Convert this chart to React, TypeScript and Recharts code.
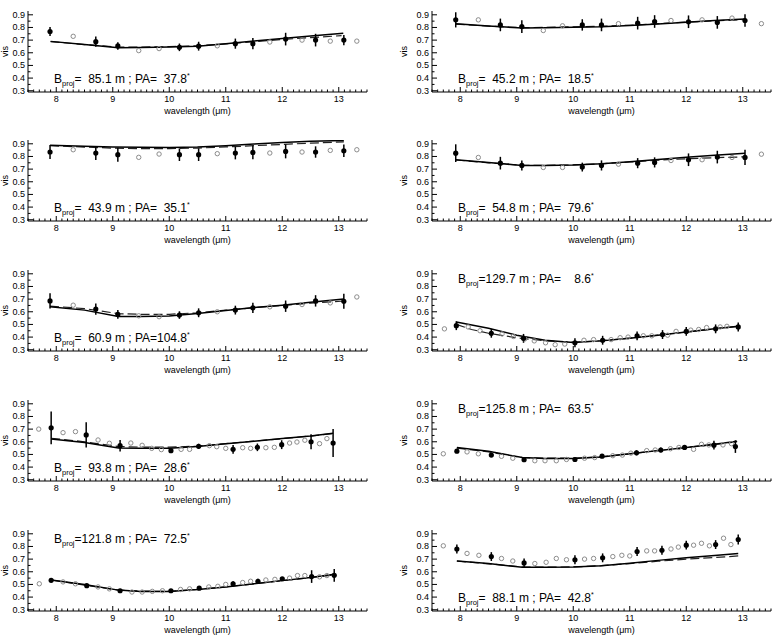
import React from 'react';
import { ComposedChart, Line, Scatter, XAxis, YAxis, ErrorBar, ReferenceDot } from 'recharts';

type Pt = [number, number];
type ErrPt = [number, number, number];

// projected baseline (m) and position angle (deg) per panel, reading order
const baselines = [85.1, 45.2, 43.9, 54.8, 60.9, 129.7, 93.8, 125.8, 121.8, 88.1];
const angles = [37.8, 18.5, 35.1, 79.6, 104.8, 8.6, 28.6, 63.5, 72.5, 42.8];
// annotation sits near the top of the box for these panels
const labelOnTop = [false, false, false, false, false, true, false, true, true, false];

// measured visibilities [wavelength, vis, error]
const measured1: ErrPt[] = [[7.89,0.768,0.035],[8.70,0.688,0.04],[9.09,0.654,0.03],[10.18,0.643,0.03],[10.52,0.652,0.035],[11.17,0.672,0.04],[11.48,0.672,0.045],[12.06,0.708,0.05],[12.59,0.70,0.05],[13.09,0.70,0.04]];
const measured2: ErrPt[] = [[7.92,0.86,0.06],[8.71,0.82,0.05],[9.09,0.807,0.05],[10.16,0.82,0.045],[10.50,0.82,0.05],[11.14,0.834,0.05],[11.44,0.847,0.05],[12.04,0.845,0.05],[12.55,0.84,0.05],[13.04,0.855,0.05]];
const measured3: ErrPt[] = [[7.89,0.835,0.055],[8.70,0.827,0.055],[9.09,0.814,0.055],[10.18,0.814,0.05],[10.52,0.814,0.05],[11.17,0.827,0.05],[11.48,0.832,0.055],[12.06,0.84,0.055],[12.59,0.835,0.045],[13.09,0.845,0.05]];
const measured4: ErrPt[] = [[7.92,0.826,0.07],[8.71,0.747,0.05],[9.09,0.729,0.04],[10.16,0.716,0.035],[10.50,0.729,0.04],[11.14,0.747,0.04],[11.44,0.753,0.04],[12.04,0.774,0.05],[12.55,0.795,0.05],[13.04,0.792,0.06]];
const measured5: ErrPt[] = [[7.89,0.686,0.06],[8.70,0.621,0.045],[9.09,0.579,0.035],[10.18,0.574,0.03],[10.52,0.592,0.035],[11.17,0.613,0.035],[11.48,0.631,0.04],[12.06,0.644,0.045],[12.59,0.686,0.045],[13.09,0.683,0.06]];
const measured6: ErrPt[] = [[7.93,0.49,0.035],[8.55,0.43,0.035],[9.12,0.39,0.035],[10.03,0.355,0.035],[10.52,0.375,0.035],[11.13,0.41,0.035],[11.58,0.42,0.035],[12.0,0.445,0.035],[12.52,0.465,0.035],[12.92,0.48,0.035]];
const measured7: ErrPt[] = [[7.91,0.71,0.13],[8.53,0.654,0.1],[9.13,0.569,0.045],[10.03,0.53,0.012],[10.52,0.564,0.02],[11.13,0.54,0.035],[11.56,0.556,0.03],[11.99,0.577,0.035],[12.51,0.60,0.06],[12.90,0.59,0.11]];
const measured8: ErrPt[] = [[7.94,0.526,0.015],[8.55,0.495,0.012],[9.13,0.458,0.012],[10.03,0.46,0.012],[10.51,0.486,0.015],[11.12,0.513,0.02],[11.55,0.535,0.02],[11.97,0.555,0.015],[12.49,0.573,0.035],[12.87,0.562,0.05]];
const measured9: ErrPt[] = [[7.91,0.532,0.012],[8.54,0.49,0.01],[9.13,0.45,0.01],[10.03,0.45,0.012],[10.53,0.47,0.015],[11.13,0.505,0.02],[11.57,0.525,0.02],[12.0,0.545,0.012],[12.52,0.562,0.05],[12.92,0.572,0.05]];
const measured10: ErrPt[] = [[7.94,0.78,0.035],[8.55,0.72,0.035],[9.13,0.67,0.035],[10.03,0.695,0.035],[10.52,0.71,0.035],[11.13,0.76,0.035],[11.57,0.77,0.035],[12.0,0.81,0.035],[12.52,0.815,0.035],[12.92,0.855,0.04]];

// comparison visibilities (open circles)
const other1: Pt[] = [[8.30,0.73],[9.46,0.617],[9.82,0.633],[10.85,0.655],[11.78,0.685],[12.35,0.70],[12.85,0.692],[13.32,0.692]];
const other2: Pt[] = [[8.32,0.86],[9.47,0.776],[9.81,0.813],[10.80,0.83],[11.73,0.855],[12.28,0.86],[12.81,0.874],[13.33,0.83]];
const other3: Pt[] = [[8.30,0.853],[9.46,0.793],[9.82,0.819],[10.85,0.822],[11.78,0.827],[12.35,0.835],[12.85,0.848],[13.32,0.853]];
const other4: Pt[] = [[8.32,0.792],[9.47,0.713],[9.81,0.713],[10.80,0.739],[11.73,0.768],[12.28,0.774],[12.81,0.792],[13.33,0.818]];
const other5: Pt[] = [[8.30,0.652],[9.46,0.568],[9.82,0.561],[10.85,0.60],[11.78,0.639],[12.35,0.657],[12.85,0.67],[13.32,0.717]];
const other6: Pt[] = [[7.72,0.465],[8.14,0.48],[8.35,0.45],[8.74,0.425],[8.94,0.405],[9.14,0.385],[9.31,0.37],[9.51,0.355],[9.68,0.34],[9.85,0.345],[10.19,0.375],[10.36,0.38],[10.67,0.38],[10.83,0.395],[10.97,0.40],[11.24,0.41],[11.39,0.41],[11.67,0.415],[11.82,0.445],[12.08,0.455],[12.22,0.46],[12.36,0.475],[12.6,0.48],[12.72,0.485]];
const other7: Pt[] = [[7.69,0.70],[8.12,0.672],[8.34,0.68],[8.74,0.614],[8.94,0.588],[9.32,0.59],[9.52,0.572],[9.69,0.548],[9.86,0.538],[10.21,0.54],[10.36,0.54],[10.71,0.569],[10.84,0.561],[11.0,0.548],[11.30,0.553],[11.44,0.548],[11.71,0.553],[11.86,0.556],[12.13,0.59],[12.26,0.598],[12.40,0.612],[12.66,0.585],[12.79,0.625]];
const other8: Pt[] = [[7.7,0.505],[8.12,0.52],[8.32,0.505],[8.73,0.485],[8.93,0.47],[9.32,0.45],[9.5,0.45],[9.7,0.45],[9.88,0.46],[10.2,0.47],[10.38,0.475],[10.7,0.49],[10.87,0.495],[11.02,0.51],[11.3,0.53],[11.45,0.535],[11.72,0.545],[11.87,0.555],[12.13,0.54],[12.27,0.58],[12.4,0.575],[12.65,0.575],[12.8,0.585]];
const other9: Pt[] = [[7.7,0.505],[8.12,0.52],[8.34,0.505],[8.74,0.48],[8.94,0.465],[9.34,0.44],[9.52,0.44],[9.7,0.445],[9.88,0.45],[10.2,0.46],[10.36,0.465],[10.7,0.48],[10.86,0.485],[11.0,0.5],[11.3,0.515],[11.44,0.525],[11.71,0.535],[11.87,0.54],[12.13,0.55],[12.27,0.57],[12.4,0.57],[12.66,0.56],[12.79,0.57]];
const other10: Pt[] = [[7.7,0.805],[8.12,0.745],[8.33,0.73],[8.73,0.705],[8.93,0.685],[9.32,0.665],[9.52,0.675],[9.7,0.705],[9.88,0.695],[10.2,0.70],[10.36,0.705],[10.7,0.72],[10.86,0.73],[11.0,0.725],[11.3,0.765],[11.44,0.765],[11.73,0.78],[11.86,0.795],[12.13,0.81],[12.27,0.825],[12.41,0.805],[12.66,0.865],[12.79,0.815]];

// model curves: solid and dashed
const modelA1: Pt[] = [[7.9,0.69],[8.5,0.665],[9.1,0.64],[9.5,0.642],[10.0,0.645],[10.5,0.652],[11.0,0.672],[11.5,0.692],[12.0,0.712],[12.5,0.732],[13.08,0.755]];
const modelB1: Pt[] = [[7.9,0.688],[8.5,0.665],[9.1,0.645],[9.5,0.645],[10.0,0.648],[10.5,0.655],[11.0,0.67],[11.5,0.688],[12.0,0.705],[12.5,0.72],[13.05,0.735]];
const modelA2: Pt[] = [[7.92,0.83],[8.5,0.812],[9.1,0.795],[9.5,0.797],[10.0,0.802],[10.5,0.806],[11.0,0.815],[11.5,0.828],[12.0,0.842],[12.5,0.855],[13.04,0.866]];
const modelB2: Pt[] = [[7.92,0.827],[8.5,0.81],[9.1,0.798],[10.0,0.805],[10.5,0.81],[11.0,0.817],[11.5,0.83],[12.0,0.842],[12.5,0.852],[13.04,0.862]];
const modelA3: Pt[] = [[7.89,0.888],[8.5,0.88],[9.0,0.874],[9.5,0.872],[10.0,0.871],[10.5,0.875],[11.0,0.885],[11.5,0.898],[12.0,0.91],[12.5,0.92],[13.09,0.926]];
const modelB3: Pt[] = [[7.89,0.885],[8.5,0.874],[9.0,0.866],[9.5,0.862],[10.0,0.862],[10.5,0.866],[11.0,0.875],[11.5,0.885],[12.0,0.895],[12.5,0.905],[13.09,0.915]];
const modelA4: Pt[] = [[7.92,0.774],[8.5,0.752],[9.1,0.729],[9.5,0.728],[10.0,0.732],[10.5,0.742],[11.0,0.758],[11.5,0.775],[12.0,0.793],[12.5,0.81],[13.04,0.826]];
const modelB4: Pt[] = [[7.92,0.772],[8.5,0.75],[9.1,0.73],[9.5,0.73],[10.0,0.733],[10.5,0.742],[11.0,0.756],[11.5,0.77],[12.0,0.782],[12.5,0.79],[13.04,0.797]];
const modelA5: Pt[] = [[7.89,0.639],[8.5,0.613],[9.1,0.563],[9.5,0.562],[10.0,0.566],[10.5,0.587],[11.0,0.61],[11.5,0.633],[12.0,0.652],[12.5,0.675],[13.09,0.70]];
const modelB5: Pt[] = [[7.89,0.645],[8.5,0.625],[9.1,0.585],[9.5,0.58],[10.0,0.58],[10.5,0.592],[11.0,0.613],[11.5,0.632],[12.0,0.65],[12.5,0.668],[13.09,0.685]];
const modelA6: Pt[] = [[7.93,0.52],[8.5,0.47],[9.0,0.415],[9.5,0.375],[10.0,0.358],[10.5,0.37],[11.0,0.39],[11.5,0.415],[12.0,0.44],[12.5,0.465],[12.92,0.485]];
const modelB6: Pt[] = [[7.93,0.50],[8.2,0.46],[8.5,0.43],[9.0,0.395],[9.5,0.37],[10.0,0.36],[10.5,0.372],[11.0,0.392],[11.5,0.415],[12.0,0.44],[12.5,0.465],[12.92,0.485]];
const modelA7: Pt[] = [[7.91,0.622],[8.5,0.595],[9.1,0.55],[9.5,0.548],[10.0,0.548],[10.5,0.562],[11.0,0.585],[11.5,0.605],[12.0,0.625],[12.5,0.645],[12.9,0.668]];
const modelB7: Pt[] = [[7.91,0.628],[8.5,0.6],[9.1,0.562],[9.5,0.558],[10.0,0.557],[10.5,0.566],[11.0,0.585],[11.5,0.605],[12.0,0.625],[12.5,0.645],[12.9,0.665]];
const modelA8: Pt[] = [[7.94,0.555],[8.5,0.525],[9.1,0.475],[9.5,0.468],[10.0,0.468],[10.5,0.48],[11.0,0.505],[11.5,0.53],[12.0,0.555],[12.5,0.58],[12.9,0.605]];
const modelB8: Pt[] = [[7.94,0.55],[8.5,0.52],[9.1,0.475],[9.5,0.47],[10.0,0.47],[10.5,0.482],[11.0,0.505],[11.5,0.53],[12.0,0.555],[12.5,0.578],[12.9,0.6]];
const modelA9: Pt[] = [[7.91,0.535],[8.5,0.5],[9.1,0.455],[9.5,0.445],[10.0,0.445],[10.5,0.46],[11.0,0.48],[11.5,0.505],[12.0,0.53],[12.5,0.555],[12.92,0.58]];
const modelB9: Pt[] = [[7.91,0.535],[8.5,0.495],[9.1,0.455],[9.5,0.447],[10.0,0.445],[10.5,0.46],[11.0,0.48],[11.5,0.505],[12.0,0.53],[12.5,0.553],[12.92,0.575]];
const modelA10: Pt[] = [[7.94,0.685],[8.5,0.665],[9.1,0.635],[9.5,0.635],[10.0,0.638],[10.5,0.648],[11.0,0.668],[11.5,0.69],[12.0,0.71],[12.5,0.728],[12.92,0.745]];
const modelB10: Pt[] = [[7.94,0.685],[8.5,0.663],[9.1,0.638],[9.5,0.637],[10.0,0.638],[10.5,0.648],[11.0,0.665],[11.5,0.683],[12.0,0.7],[12.5,0.712],[12.92,0.725]];

const measured = [measured1, measured2, measured3, measured4, measured5, measured6, measured7, measured8, measured9, measured10];
const others = [other1, other2, other3, other4, other5, other6, other7, other8, other9, other10];
const modelsSolid = [modelA1, modelA2, modelA3, modelA4, modelA5, modelA6, modelA7, modelA8, modelA9, modelA10];
const modelsDashed = [modelB1, modelB2, modelB3, modelB4, modelB5, modelB6, modelB7, modelB8, modelB9, modelB10];

const xDomain: [number, number] = [7.5, 13.5];
const yDomain: [number, number] = [0.29, 0.93];
// major ticks every 1 um / 0.1 vis, minor ticks in between
const xTicks = Array.from({ length: 61 }, (_, i) => +(7.5 + i * 0.1).toFixed(1));
const yTicks = Array.from({ length: 13 }, (_, i) => +(0.3 + i * 0.05).toFixed(2));

const rowTops = [0, 129, 259, 389, 519];
const FONT = '"Liberation Sans", Arial, Helvetica, sans-serif';

const isMajorX = (v: number) => Math.abs(v - Math.round(v)) < 1e-6;
const isMajorY = (v: number) => Math.abs(v * 10 - Math.round(v * 10)) < 1e-6;

const BottomTick = (p: any) => {
  const v = p.payload.value;
  const major = isMajorX(v);
  return (
    <g>
      <line x1={p.x} x2={p.x} y1={p.y} y2={p.y - (major ? 5 : 2.5)} stroke="#000" strokeWidth={1} />
      {major && (
        <text x={p.x} y={p.y + 10} textAnchor="middle" fontSize={9} fill="#000" fontFamily={FONT}>
          {Math.round(v)}
        </text>
      )}
    </g>
  );
};

const TopTick = (p: any) => {
  const major = isMajorX(p.payload.value);
  return <line x1={p.x} x2={p.x} y1={p.y} y2={p.y + (major ? 5 : 2.5)} stroke="#000" strokeWidth={1} />;
};

const LeftTick = (p: any) => {
  const v = p.payload.value;
  const major = isMajorY(v);
  return (
    <g>
      <line x1={p.x} x2={p.x + (major ? 5 : 2.5)} y1={p.y} y2={p.y} stroke="#000" strokeWidth={1} />
      {major && (
        <text x={p.x - 3} y={p.y + 3} textAnchor="end" fontSize={9} fill="#000" fontFamily={FONT}>
          {v.toFixed(1)}
        </text>
      )}
    </g>
  );
};

const RightTick = (p: any) => {
  const major = isMajorY(p.payload.value);
  return <line x1={p.x} x2={p.x - (major ? 5 : 2.5)} y1={p.y} y2={p.y} stroke="#000" strokeWidth={1} />;
};

const pad = (v: number) => v.toFixed(1).padStart(5, '\u2007');

function Annotation({ cx, cy, b, pa }: { cx: number; cy: number; b: number; pa: number }) {
  return (
    <text x={cx} y={cy + 4} fontSize={12} fill="#000" fontFamily={FONT} style={{ whiteSpace: 'pre' }}>
      B
      <tspan fontSize={7.5} dy={3}>proj</tspan>
      <tspan dy={-3}>{`=${pad(b)} m ; PA=${pad(pa)}`}</tspan>
      <tspan fontSize={7} dy={-5}>*</tspan>
    </text>
  );
}

function Panel({ i }: { i: number }) {
  const row = Math.floor(i / 2);
  const col = i % 2;
  const filled = measured[i].map(([x, y, e]) => ({ x, y, e }));
  const open = others[i].map(([x, y]) => ({ x, y }));
  const solid = modelsSolid[i].map(([x, y]) => ({ x, y }));
  const dashed = modelsDashed[i].map(([x, y]) => ({ x, y }));
  // left column sits against the page edge, so its "vis" goes a little further in
  const visX = col === 0 ? 22 : 16.5;

  return (
    <div style={{ position: 'absolute', left: col === 0 ? -14 : 390, top: rowTops[row] }}>
      <ComposedChart width={385} height={129} margin={{ top: 11, right: 4, bottom: 0, left: 0 }}>
        <XAxis
          xAxisId="b"
          type="number"
          dataKey="x"
          domain={xDomain}
          allowDataOverflow
          ticks={xTicks}
          interval={0}
          tickSize={0}
          tickMargin={0}
          tickLine={false}
          tick={(p: any) => <BottomTick {...p} />}
          axisLine={{ stroke: '#000', strokeWidth: 1 }}
          height={37}
          label={{ value: 'wavelength (\u03bcm)', position: 'insideBottom', offset: 15, fontSize: 9, fill: '#000', fontFamily: FONT }}
        />
        <XAxis
          xAxisId="t"
          orientation="top"
          type="number"
          dataKey="x"
          domain={xDomain}
          allowDataOverflow
          ticks={xTicks}
          interval={0}
          tickSize={0}
          tickMargin={0}
          tickLine={false}
          tick={(p: any) => <TopTick {...p} />}
          axisLine={{ stroke: '#000', strokeWidth: 1 }}
          height={0}
        />
        <YAxis
          yAxisId="l"
          type="number"
          dataKey="y"
          domain={yDomain}
          allowDataOverflow
          ticks={yTicks}
          interval={0}
          tickSize={0}
          tickMargin={0}
          tickLine={false}
          tick={(p: any) => <LeftTick {...p} />}
          axisLine={{ stroke: '#000', strokeWidth: 1 }}
          width={42}
          label={(props: any) => {
            const vb = props.viewBox;
            return (
              <text
                transform={`translate(${vb.x + visX}, ${vb.y + vb.height / 2}) rotate(-90)`}
                textAnchor="middle"
                fontSize={9}
                fill="#000"
                fontFamily={FONT}
              >
                vis
              </text>
            );
          }}
        />
        <YAxis
          yAxisId="r"
          orientation="right"
          type="number"
          dataKey="y"
          domain={yDomain}
          allowDataOverflow
          ticks={yTicks}
          interval={0}
          tickSize={0}
          tickMargin={0}
          tickLine={false}
          tick={(p: any) => <RightTick {...p} />}
          axisLine={{ stroke: '#000', strokeWidth: 1 }}
          width={0}
        />
        <Scatter
          xAxisId="b"
          yAxisId="l"
          data={open}
          dataKey="y"
          isAnimationActive={false}
          shape={(p: any) => <circle cx={p.cx} cy={p.cy} r={2.2} fill="none" stroke="#8c8c8c" strokeWidth={1} />}
        />
        <Line
          xAxisId="b"
          yAxisId="l"
          data={dashed}
          dataKey="y"
          type="linear"
          stroke="#222"
          strokeWidth={1.2}
          strokeDasharray="9 4"
          dot={false}
          isAnimationActive={false}
        />
        <Line
          xAxisId="b"
          yAxisId="l"
          data={solid}
          dataKey="y"
          type="linear"
          stroke="#000"
          strokeWidth={1.5}
          dot={false}
          isAnimationActive={false}
        />
        <Scatter
          xAxisId="b"
          yAxisId="l"
          data={filled}
          dataKey="y"
          isAnimationActive={false}
          shape={(p: any) => <circle cx={p.cx} cy={p.cy} r={2.6} fill="#000" />}
        >
          <ErrorBar dataKey="e" direction="y" width={0} stroke="#000" strokeWidth={1.5} isAnimationActive={false} />
        </Scatter>
        <ReferenceDot
          xAxisId="b"
          yAxisId="l"
          x={7.96}
          y={labelOnTop[i] ? 0.859 : 0.393}
          r={0}
          shape={(p: any) => <Annotation cx={p.cx} cy={p.cy} b={baselines[i]} pa={angles[i]} />}
        />
      </ComposedChart>
    </div>
  );
}

export default function App() {
  return (
    <div
      style={{
        position: 'absolute',
        left: 0,
        top: 0,
        width: 775,
        height: 641,
        overflow: 'hidden',
        background: '#fff',
        fontFamily: FONT,
      }}
    >
      {baselines.map((_, i) => (
        <Panel key={i} i={i} />
      ))}
    </div>
  );
}
